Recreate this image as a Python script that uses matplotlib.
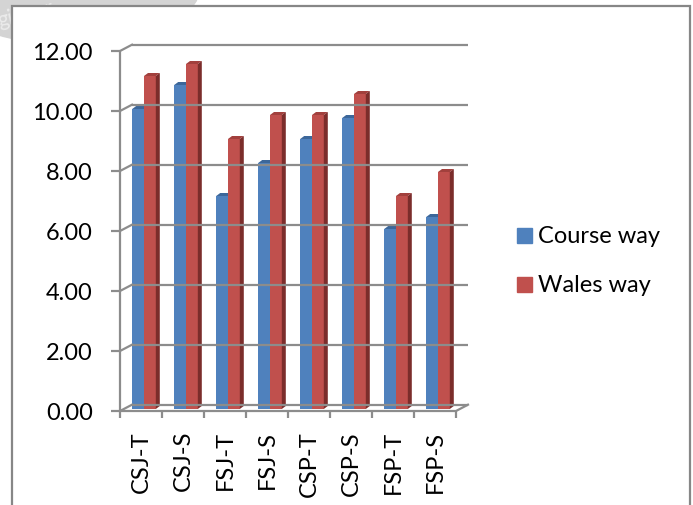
import matplotlib
matplotlib.use('Agg')
import matplotlib.pyplot as plt
from matplotlib.patches import Rectangle, Polygon, Ellipse

plt.rcParams['font.family'] = ['Lato', 'DejaVu Sans']

# data
categories = ['CSJ-T', 'CSJ-S', 'FSJ-T', 'FSJ-S', 'CSP-T', 'CSP-S', 'FSP-T', 'FSP-S']
course_way = [10.0, 10.8, 7.1, 8.2, 9.0, 9.7, 6.0, 6.4]
wales_way = [11.1, 11.5, 9.0, 9.8, 9.8, 10.5, 7.1, 7.9]
series_names = ['Course way', 'Wales way']
y_ticks = [0, 2, 4, 6, 8, 10, 12]

# colours (front, top, side)
blue = ('#4F81BD', '#3C679A', '#2F527C')
red = ('#C0504D', '#A2403D', '#7B2D2B')
grid_col = '#8C8C8C'

W, H = 693, 506
fig = plt.figure(figsize=(W / 100, H / 100), dpi=100)

# background layer in pixel coordinates: watermark blob + chart frame
bg = fig.add_axes([0, 0, 1, 1])
bg.set_xlim(0, W)
bg.set_ylim(H, 0)
bg.axis('off')
bg.add_patch(Ellipse((70, -12), 260, 115, color='#D4D4D4', zorder=0))
bg.text(-4, 14, 'gineer', color='#EBEBEB', fontsize=15, rotation=14,
        ha='left', va='center', zorder=1)
bg.add_patch(Rectangle((12, 7), 678, 540, facecolor='white',
                       edgecolor='#878787', lw=1.6, zorder=2))

# legend drawn by hand
for k, (name, col) in enumerate(zip(series_names, [blue[0], red[0]])):
    yc = 236.5 + 48.5 * k
    bg.add_patch(Rectangle((517, yc - 7.5), 15, 15, color=col, zorder=3))
    bg.text(538, yc, name, fontsize=17, ha='left', va='center', zorder=3)

# plot area, data coordinates of the plane the bar faces sit in
ax = fig.add_axes([123 / W, (H - 410) / H, 336 / W, 360 / H])
ax.set_xlim(-0.5, 7.5)
ax.set_ylim(0, 12)
ax.axis('off')
ax.patch.set_alpha(0)

px_x = 1 / 42.0   # data units per pixel
px_y = 1 / 30.0
back = (9 * px_x, 4.3 * px_y)
front = (-3 * px_x, -2 * px_y)
lw = 1.6

def line(xs, ys, off, **kw):
    ax.plot([x + off[0] for x in xs], [y + off[1] for y in ys],
            color=grid_col, lw=lw, clip_on=False, solid_capstyle='butt', **kw)

# back wall gridlines and the diagonals from the front ticks
for v in y_ticks:
    line([-0.5, 7.5], [v, v], back)
    ax.plot([-0.5 + front[0], -0.5 + back[0]], [v + front[1], v + back[1]],
            color=grid_col, lw=lw, clip_on=False)
    line([-0.5 - 9 * px_x, -0.5], [v, v], front)

# floor outline
ax.plot([-0.5 + front[0], 7.5 + front[0], 7.5 + back[0]],
        [front[1], front[1], back[1]], color=grid_col, lw=lw, clip_on=False)

# vertical value axis
line([-0.5, -0.5], [0, 12], front)

# category ticks under the floor
for k in range(len(categories) + 1):
    line([k - 0.5, k - 0.5], [0, -7 * px_y], front)

# 3-D style columns
bw = 11.8 * px_x
ddx, ddy = 4 * px_x, 3 * px_y
for i in range(len(categories)):
    for x0, v, cols in [(i - bw, course_way[i], blue), (i, wales_way[i], red)]:
        x1 = x0 + bw
        ax.add_patch(Rectangle((x0, 0), bw, v, color=cols[0], lw=0, clip_on=False))
        ax.add_patch(Polygon([(x0, v), (x0 + ddx, v + ddy), (x1 + ddx, v + ddy), (x1, v)],
                             closed=True, color=cols[1], lw=0, clip_on=False))
        ax.add_patch(Polygon([(x1, 0), (x1 + ddx, ddy), (x1 + ddx, v + ddy), (x1, v)],
                             closed=True, color=cols[2], lw=0, clip_on=False))

# value labels
for v in y_ticks:
    ax.text(-0.5 + front[0] - 27 * px_x, v - 4 * px_y, f'{v:.2f}', fontsize=17,
            ha='right', va='center')

# category labels
for i, name in enumerate(categories):
    ax.text(i + front[0], -21 * px_y, name, fontsize=17, rotation=90,
            ha='center', va='top')

fig.savefig('out.png', dpi=100)
